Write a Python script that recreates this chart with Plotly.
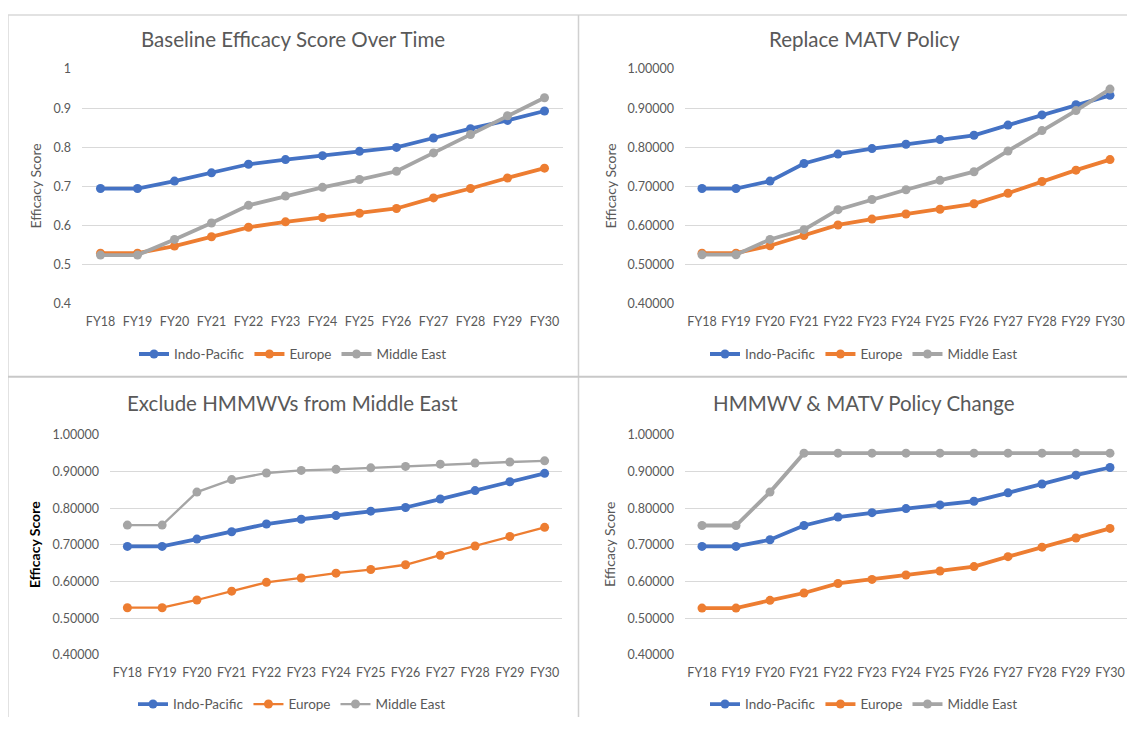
import plotly.graph_objects as go

# page body keeps an 8px margin, so the figure is drawn a bit smaller and
# every reference pixel position is shifted by OFF
OFF = 8
W, H = 1135 - 2 * OFF, 732 - 2 * OFF

years = ["FY18", "FY19", "FY20", "FY21", "FY22", "FY23", "FY24",
         "FY25", "FY26", "FY27", "FY28", "FY29", "FY30"]
regions = ["Indo-Pacific", "Europe", "Middle East"]

# Baseline Efficacy Score Over Time
base_ip = [0.695, 0.695, 0.714, 0.735, 0.757, 0.769, 0.779, 0.790, 0.800, 0.824, 0.848, 0.869, 0.893]
base_eu = [0.530, 0.530, 0.548, 0.572, 0.596, 0.610, 0.621, 0.632, 0.644, 0.671, 0.695, 0.722, 0.747]
base_me = [0.525, 0.525, 0.565, 0.607, 0.652, 0.676, 0.698, 0.718, 0.739, 0.786, 0.833, 0.881, 0.927]

# Replace MATV Policy
matv_ip = [0.695, 0.695, 0.714, 0.759, 0.783, 0.797, 0.808, 0.820, 0.831, 0.857, 0.883, 0.909, 0.933]
matv_eu = [0.530, 0.530, 0.549, 0.575, 0.602, 0.617, 0.630, 0.642, 0.656, 0.683, 0.713, 0.742, 0.769]
matv_me = [0.526, 0.526, 0.565, 0.590, 0.641, 0.667, 0.692, 0.716, 0.738, 0.791, 0.843, 0.894, 0.949]

# Exclude HMMWVs from Middle East
hmm_ip = [0.696, 0.696, 0.716, 0.736, 0.757, 0.770, 0.780, 0.792, 0.802, 0.825, 0.848, 0.872, 0.895]
hmm_eu = [0.529, 0.529, 0.550, 0.574, 0.598, 0.610, 0.623, 0.633, 0.646, 0.672, 0.697, 0.723, 0.748]
hmm_me = [0.754, 0.754, 0.844, 0.878, 0.896, 0.903, 0.906, 0.910, 0.914, 0.920, 0.923, 0.926, 0.929]

# HMMWV & MATV Policy Change
both_ip = [0.696, 0.696, 0.714, 0.753, 0.776, 0.788, 0.799, 0.809, 0.819, 0.842, 0.866, 0.890, 0.911]
both_eu = [0.528, 0.528, 0.549, 0.569, 0.595, 0.606, 0.618, 0.629, 0.641, 0.668, 0.694, 0.719, 0.745]
both_me = [0.753, 0.753, 0.844, 0.950, 0.950, 0.950, 0.950, 0.950, 0.950, 0.950, 0.950, 0.950, 0.950]

colors = ["#4472C4", "#ED7D31", "#A5A5A5"]
TXT = "#595959"
FONT = "Lato, 'Open Sans', sans-serif"


def fx(p):
    return min(max((p - OFF) / W, 0), 1)


def fy(p):
    return min(max(1 - (p - OFF) / H, 0), 1)


panels = [
    dict(title="Baseline Efficacy Score Over Time", series=[base_ip, base_eu, base_me],
         x0=82, x1=563, y0=63, y1=303, fmt="", widths=[3.8, 3.8, 3.8], ytitle_x=36,
         bold=False, cx=293, ty=32, ly=354),
    dict(title="Replace MATV Policy", series=[matv_ip, matv_eu, matv_me],
         x0=685, x1=1127, y0=63, y1=303, fmt=".5f", widths=[3.8, 3.8, 3.8], ytitle_x=611,
         bold=False, cx=864, ty=32, ly=354),
    dict(title="Exclude HMMWVs from Middle East", series=[hmm_ip, hmm_eu, hmm_me],
         x0=110, x1=562, y0=436, y1=661, fmt=".5f", widths=[3.8, 2.3, 2.3], ytitle_x=35,
         bold=True, cx=292, ty=404, ly=711),
    dict(title="HMMWV & MATV Policy Change", series=[both_ip, both_eu, both_me],
         x0=685, x1=1127, y0=436, y1=661, fmt=".5f", widths=[3.8, 3.8, 3.8], ytitle_x=610,
         bold=False, cx=864, ty=404, ly=711),
]

fig = go.Figure()
annotations = []
layout = {}

for i, p in enumerate(panels):
    k = "" if i == 0 else str(i + 1)
    leg = "legend" + k
    for name, vals, col, lw in zip(regions, p["series"], colors, p["widths"]):
        fig.add_trace(go.Scatter(
            x=years, y=vals, name=name, mode="lines+markers",
            line=dict(color=col, width=lw),
            marker=dict(color=col, size=9),
            xaxis="x" + k, yaxis="y" + k, legend=leg,
        ))
    layout["xaxis" + k] = dict(
        domain=[fx(p["x0"]), fx(p["x1"])], anchor="y" + k,
        type="category", range=[-0.5, 12.5], showgrid=False, zeroline=False,
        showline=False, ticks="", tickfont=dict(size=12.5, color=TXT, family=FONT),
        ticklabelstandoff=8, fixedrange=True,
    )
    layout["yaxis" + k] = dict(
        domain=[fy(p["y1"]), fy(p["y0"])], anchor="x" + k,
        range=[0.3995, 1.0005], dtick=0.1, tick0=0.4, tickformat=p["fmt"],
        showgrid=True, gridcolor="#D9D9D9", gridwidth=1, zeroline=False,
        showline=False, ticks="", tickfont=dict(size=12.5, color=TXT, family=FONT),
        ticklabelstandoff=10, fixedrange=True,
    )
    annotations.append(dict(
        text=p["title"], x=fx(p["cx"]), y=fy(p["ty"]), xref="paper", yref="paper",
        showarrow=False, xanchor="center", yanchor="middle",
        font=dict(size=20.5, color=TXT, family=FONT),
    ))
    ytxt = "<b>Efficacy Score</b>" if p["bold"] else "Efficacy Score"
    annotations.append(dict(
        text=ytxt, x=fx(p["ytitle_x"]), y=fy((p["y0"] + p["y1"]) / 2),
        xref="paper", yref="paper", showarrow=False, textangle=-90,
        xanchor="center", yanchor="middle",
        font=dict(size=14, color="#000000" if p["bold"] else TXT, family=FONT),
    ))
    layout[leg] = dict(
        orientation="h", x=fx(p["cx"]), y=fy(p["ly"]), xanchor="center", yanchor="middle",
        font=dict(size=13.5, color=TXT, family=FONT), bgcolor="rgba(0,0,0,0)",
        itemwidth=30, tracegroupgap=0,
    )

shapes = [
    dict(type="line", x0=fx(6), x1=fx(1135), y0=fy(5), y1=fy(5),
         xref="paper", yref="paper", line=dict(color="#D9D9D9", width=1.5)),
    dict(type="line", x0=fx(6), x1=fx(6), y0=fy(5), y1=fy(732),
         xref="paper", yref="paper", line=dict(color="#D9D9D9", width=1.5)),
    dict(type="line", x0=fx(578.5), x1=fx(578.5), y0=fy(5), y1=fy(732),
         xref="paper", yref="paper", line=dict(color="#D0D0D0", width=1.5)),
    dict(type="line", x0=fx(6), x1=fx(1135), y0=fy(377), y1=fy(377),
         xref="paper", yref="paper", line=dict(color="#C8C8C8", width=2)),
]

fig.update_layout(
    width=W, height=H, margin=dict(l=0, r=0, t=0, b=0),
    paper_bgcolor="white", plot_bgcolor="white",
    font=dict(family=FONT, color=TXT),
    annotations=annotations, shapes=shapes, showlegend=True,
    **layout,
)

fig.write_html("out.html")
